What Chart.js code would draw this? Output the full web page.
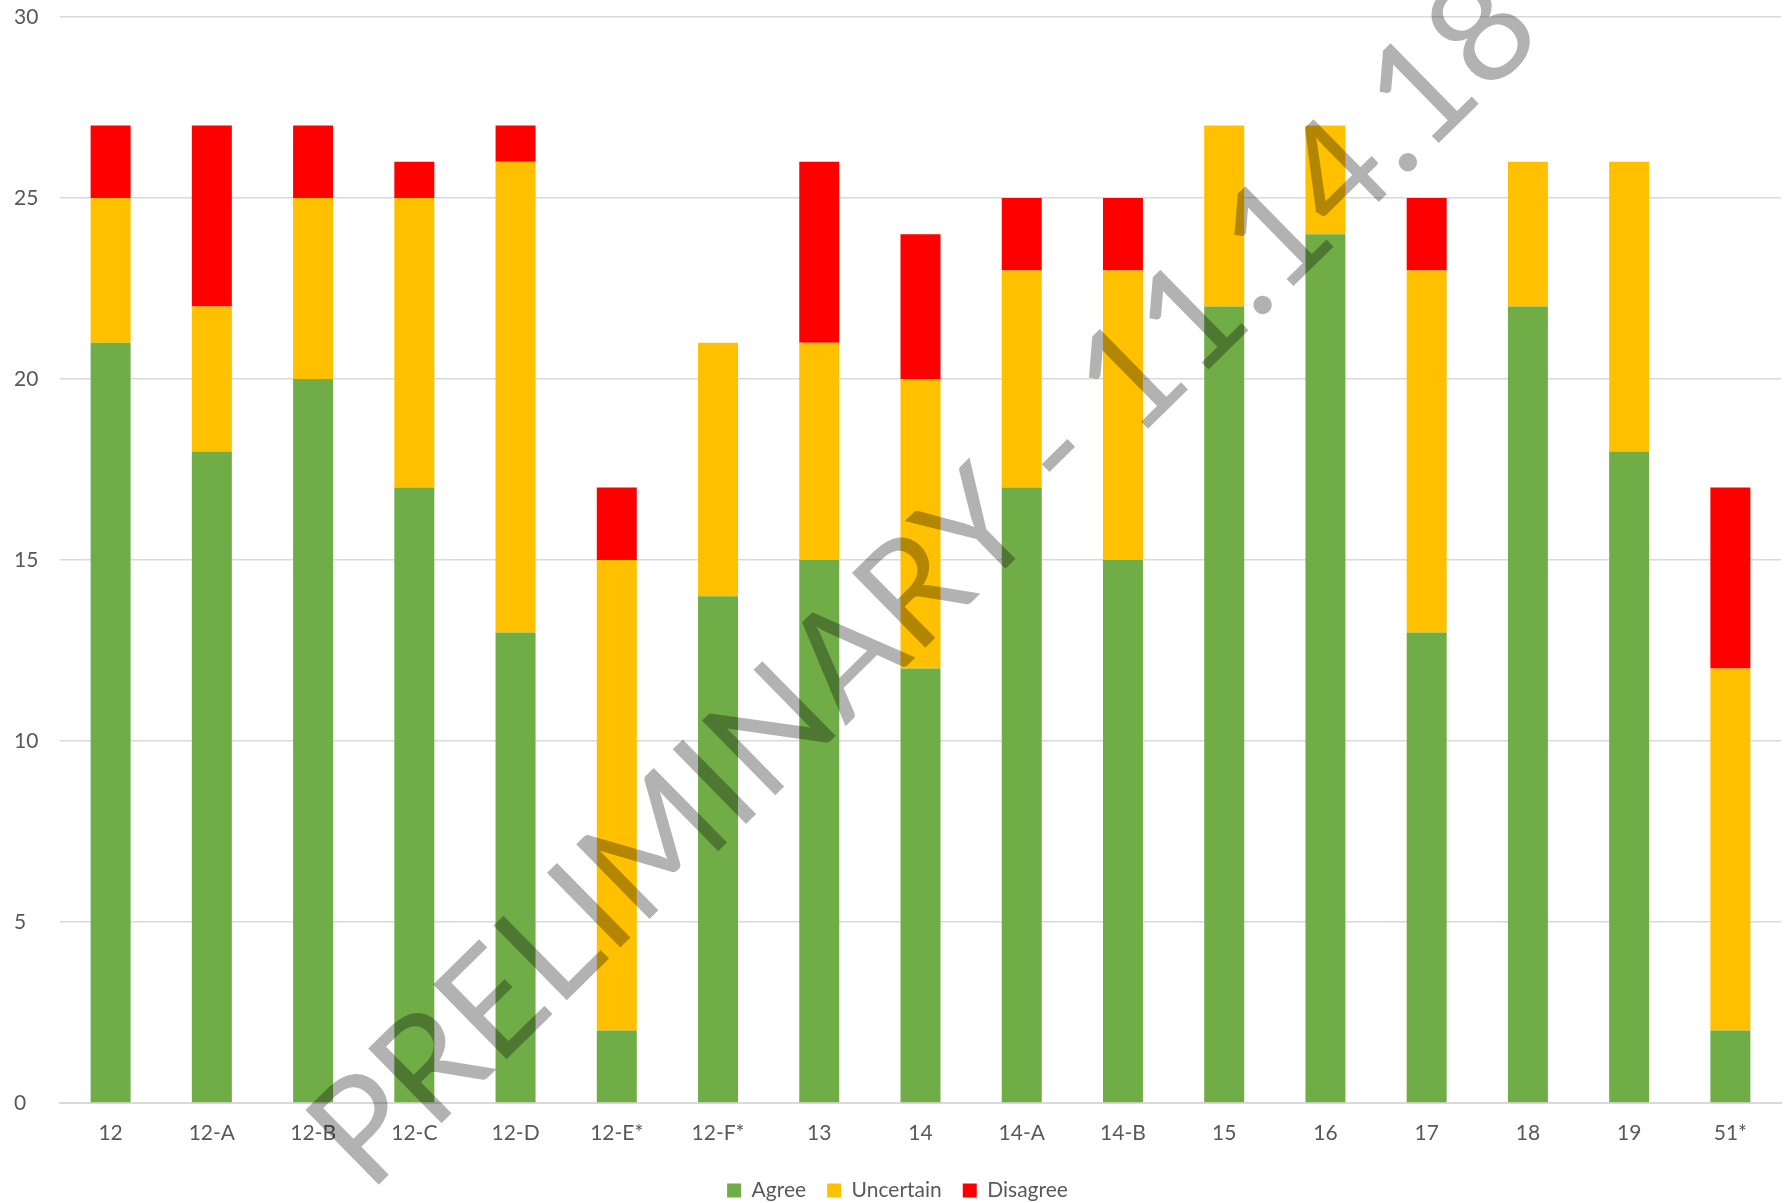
<!DOCTYPE html>
<html>
<head>
<meta charset="utf-8">
<script src="https://cdn.jsdelivr.net/npm/chart.js@4"></script>
<style>
  html, body { margin: 0; padding: 0; background: #fff; }
  #wrap { width: 1784px; height: 1203px; }
</style>
</head>
<body>
<div id="wrap"><canvas id="surveyChart" width="1784" height="1203"></canvas></div>
<script>
// survey results per item
const items = ['12', '12-A', '12-B', '12-C', '12-D', '12-E*', '12-F*', '13', '14', '14-A', '14-B', '15', '16', '17', '18', '19', '51*'];
const agree     = [21, 18, 20, 17, 13, 2, 14, 15, 12, 17, 15, 22, 24, 13, 22, 18, 2];
const uncertain = [4, 4, 5, 8, 13, 13, 7, 6, 8, 6, 8, 5, 3, 10, 4, 8, 10];
const disagree  = [2, 5, 2, 1, 1, 2, 0, 5, 4, 2, 2, 0, 0, 2, 0, 0, 5];
const yTicks = [0, 5, 10, 15, 20, 25, 30];
const watermark = 'PRELIMINARY - 11.14.18';

const font = 'Lato, "Open Sans", sans-serif';

// draws the diagonal watermark over the bars
const watermarkPlugin = {
  id: 'watermark',
  afterDatasetsDraw(chart) {
    const ctx = chart.ctx;
    ctx.save();
    ctx.translate(925, 582);
    ctx.rotate(-44.5 * Math.PI / 180);
    ctx.font = '400 146px ' + font;
    ctx.fillStyle = 'rgba(0,0,0,0.30)';
    ctx.textAlign = 'center';
    ctx.textBaseline = 'middle';
    ctx.fillText(watermark, 0, 0);
    ctx.restore();
  }
};

const surveyChart = new Chart(document.getElementById('surveyChart'), {
  type: 'bar',
  data: {
    labels: items,
    datasets: [
      { label: 'Agree', data: agree, backgroundColor: '#70AD47' },
      { label: 'Uncertain', data: uncertain, backgroundColor: '#FFC000' },
      { label: 'Disagree', data: disagree, backgroundColor: '#FF0000' }
    ]
  },
  options: {
    responsive: false,
    animation: false,
    devicePixelRatio: 1,
    layout: { padding: { left: 14, right: 3, top: 17, bottom: -8 } },
    datasets: {
      bar: { categoryPercentage: 1, barPercentage: 0.395 }
    },
    scales: {
      x: {
        stacked: true,
        grid: { display: false, drawTicks: false },
        border: { display: true, color: '#D9D9D9', width: 2 },
        ticks: { color: '#595959', font: { family: font, size: 21 }, padding: 18, maxRotation: 0 },
        afterFit(axis) {
          axis.height = 56;
          axis.paddingLeft = 0;
          axis.paddingRight = 0;
        }
      },
      y: {
        stacked: true,
        min: 0,
        max: 30,
        afterBuildTicks(axis) { axis.ticks = yTicks.map(v => ({ value: v })); },
        grid: { color: '#D9D9D9', lineWidth: 1.5, drawTicks: false },
        border: { display: false },
        ticks: { color: '#595959', font: { family: font, size: 21 }, padding: 19, align: 'center', crossAlign: 'far' },
        afterFit(axis) {
          axis.width = 46;
          axis.paddingTop = 0;
          axis.paddingBottom = 0;
        }
      }
    },
    plugins: {
      legend: {
        position: 'bottom',
        labels: { color: '#595959', font: { family: font, size: 21 }, boxWidth: 14, boxHeight: 14, padding: 21 }
      },
      tooltip: { enabled: false }
    }
  },
  plugins: [watermarkPlugin]
});
</script>
</body>
</html>
